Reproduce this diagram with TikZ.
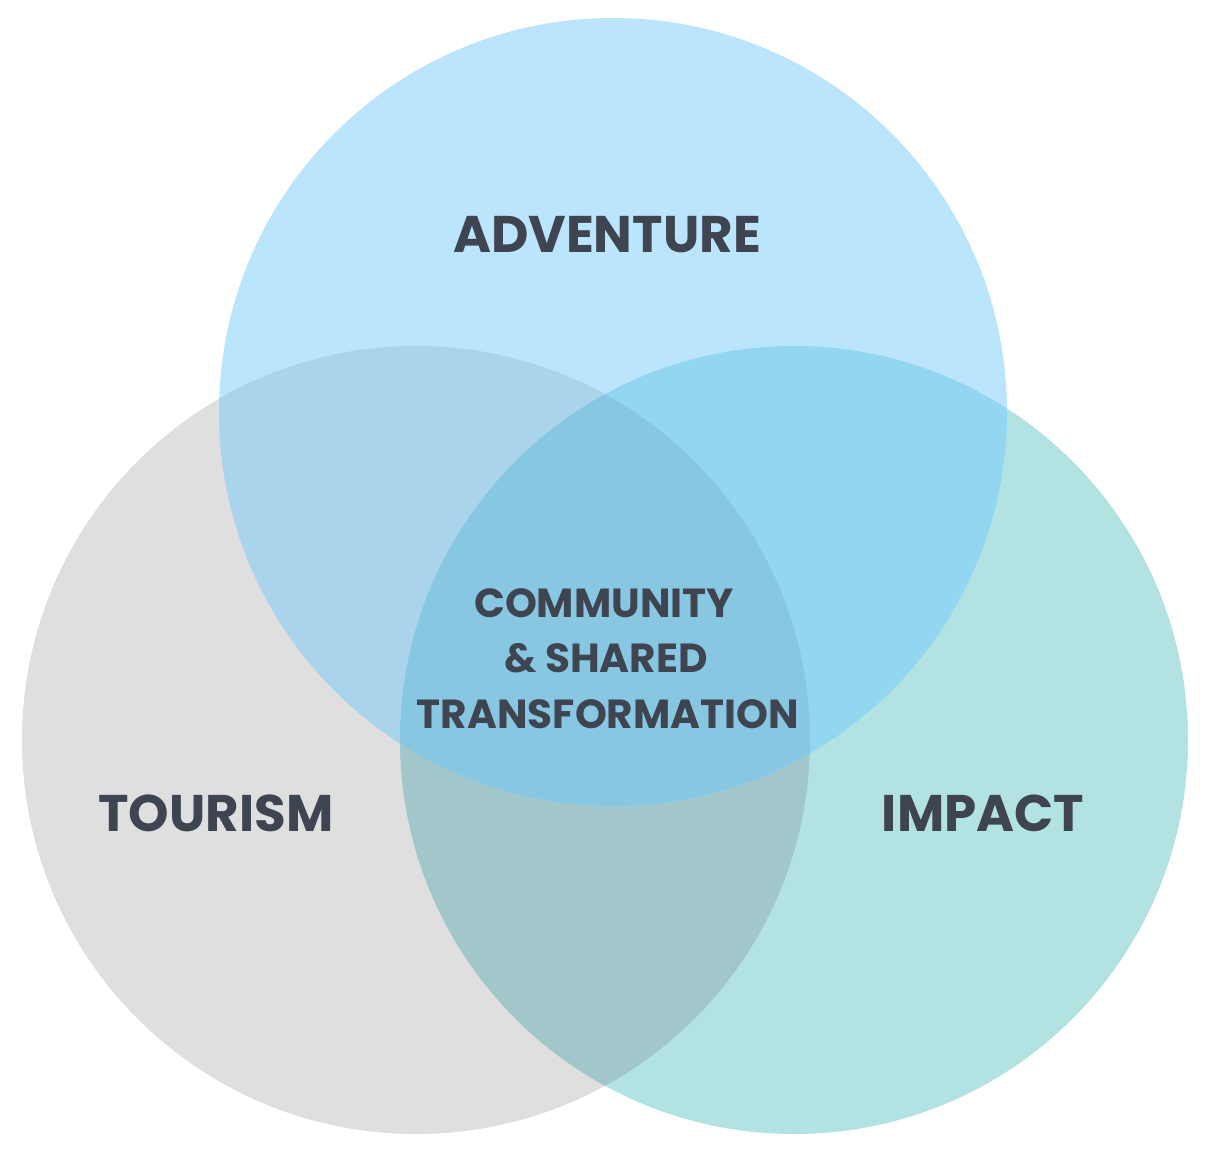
\documentclass[tikz,border=0pt]{standalone}
\usepackage{fontspec}
\setmainfont{Poppins}[BoldFont={* Bold}]
\usetikzlibrary{positioning}

\definecolor{advblue}{HTML}{BAE5FC}
\definecolor{tourgrey}{HTML}{DFDFDF}
\definecolor{impteal}{HTML}{B3E2E3}
\definecolor{adtour}{HTML}{AAD4EC}
\definecolor{adimp}{HTML}{93D6EF}
\definecolor{tourimp}{HTML}{A2C7CA}
\definecolor{allthree}{HTML}{88C7E2}
\definecolor{labelink}{HTML}{3E4450}

\tikzset{
  biglabel/.style={font=\fontsize{51.5}{60}\selectfont\bfseries, text=labelink, inner sep=0pt, anchor=base},
  midlabel/.style={font=\fontsize{40.6}{55}\selectfont\bfseries, text=labelink, inner sep=0pt, anchor=base}
}

\begin{document}
\begin{tikzpicture}[x=1pt, y=-1pt]
  \useasboundingbox (0,0) rectangle (1215,1152);
  \def\rad{394}
  \coordinate (adv) at (613,412);
  \coordinate (tour) at (416,740);
  \coordinate (imp) at (794,740);

  % single circles
  \fill[tourgrey] (tour) circle (\rad);
  \fill[impteal] (imp) circle (\rad);
  \fill[advblue] (adv) circle (\rad);

  % pairwise overlaps
  \begin{scope}
    \clip (tour) circle (\rad);
    \fill[tourimp] (imp) circle (\rad);
    \fill[adtour] (adv) circle (\rad);
  \end{scope}
  \begin{scope}
    \clip (imp) circle (\rad);
    \fill[adimp] (adv) circle (\rad);
  \end{scope}

  % centre
  \begin{scope}
    \clip (tour) circle (\rad);
    \clip (imp) circle (\rad);
    \fill[allthree] (adv) circle (\rad);
  \end{scope}

  % labels
  \node[biglabel] (advlabel) at (607,252) {ADVENTURE};
  \node[biglabel] (tourlabel) at (216,831) {TOURISM};
  \node[biglabel] (implabel) at (983,831) {IMPACT};
  \node[midlabel] (comm) at (604,617) {COMMUNITY};
  \node[midlabel] (shared) at (606,672) {\&\ SHARED};
  \node[midlabel] (transf) at (608,728) {TRANSFORMATION};
\end{tikzpicture}
\end{document}
